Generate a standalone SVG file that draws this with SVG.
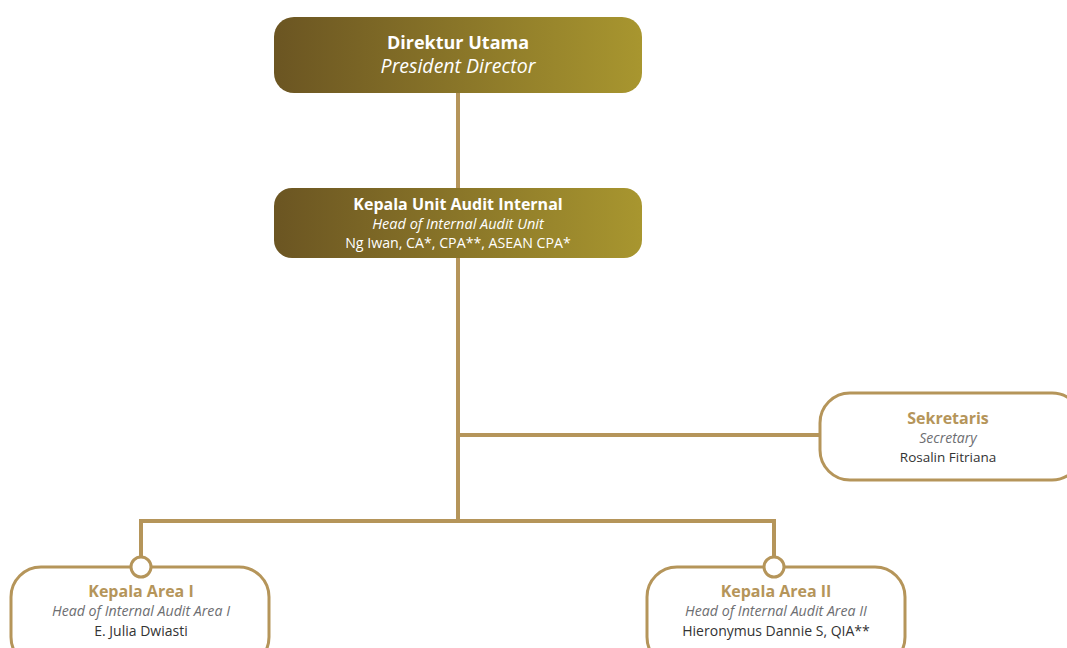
<svg xmlns="http://www.w3.org/2000/svg" width="1067" height="648" viewBox="0 0 1067 648">
<defs>
<linearGradient id="gold" x1="0" y1="0" x2="1" y2="0">
<stop offset="0" stop-color="#6b5522"/>
<stop offset="1" stop-color="#a8962f"/>
</linearGradient>
<style>
.t{font-family:"Open Sans","Noto Sans",sans-serif;text-anchor:middle}
.b{font-weight:bold}
.i{font-style:italic}
.w{fill:#ffffff}
.g{fill:#b5955a}
.gr{fill:#6d6e71}
.d{fill:#333333}
.ln{stroke:#b5955a;stroke-width:4;fill:none}
.box{fill:#ffffff;stroke:#b5955a;stroke-width:3}
</style>
</defs>
<rect width="1067" height="648" fill="#ffffff"/>
<g id="connectors">
<path class="ln" d="M458 93 V521"/>
<path class="ln" d="M458 435 H820"/>
<path class="ln" d="M141 558 V521 H774 V558"/>
</g>
<g id="n1">
<rect x="274" y="17" width="368" height="76" rx="20" fill="url(#gold)"/>
<text class="t b w" x="458" y="49" font-size="18">Direktur Utama</text>
<text class="t i w" x="458" y="73" font-size="19.5">President Director</text>
</g>
<g id="n2">
<rect x="274" y="188" width="368" height="70" rx="18" fill="url(#gold)"/>
<text class="t b w" x="458" y="210" font-size="16">Kepala Unit Audit Internal</text>
<text class="t i w" x="458" y="229" font-size="14.5">Head of Internal  Audit Unit</text>
<text class="t w" x="458" y="248" font-size="14.2">Ng Iwan, CA*, CPA**, ASEAN CPA*</text>
</g>
<g id="n3">
<rect class="box" x="820" y="393" width="262" height="87" rx="30"/>
<text class="t b g" x="948" y="424" font-size="16">Sekretaris</text>
<text class="t i gr" x="948" y="443" font-size="14">Secretary</text>
<text class="t d" x="948" y="462" font-size="13.5">Rosalin Fitriana</text>
</g>
<g id="n4">
<rect class="box" x="11" y="567" width="258" height="100" rx="30"/>
<circle class="box" cx="141" cy="567" r="10"/>
<text class="t b g" x="141" y="597" font-size="16">Kepala Area I</text>
<text class="t i gr" x="141" y="616" font-size="14.2">Head of Internal Audit Area I</text>
<text class="t d" x="141" y="636" font-size="14">E. Julia Dwiasti</text>
</g>
<g id="n5">
<rect class="box" x="647" y="567" width="258" height="100" rx="30"/>
<circle class="box" cx="774" cy="567" r="10"/>
<text class="t b g" x="776" y="597" font-size="16">Kepala Area II</text>
<text class="t i gr" x="776" y="616" font-size="14.2">Head of Internal Audit Area II</text>
<text class="t d" x="776" y="636" font-size="14">Hieronymus Dannie S, QIA**</text>
</g>
</svg>
